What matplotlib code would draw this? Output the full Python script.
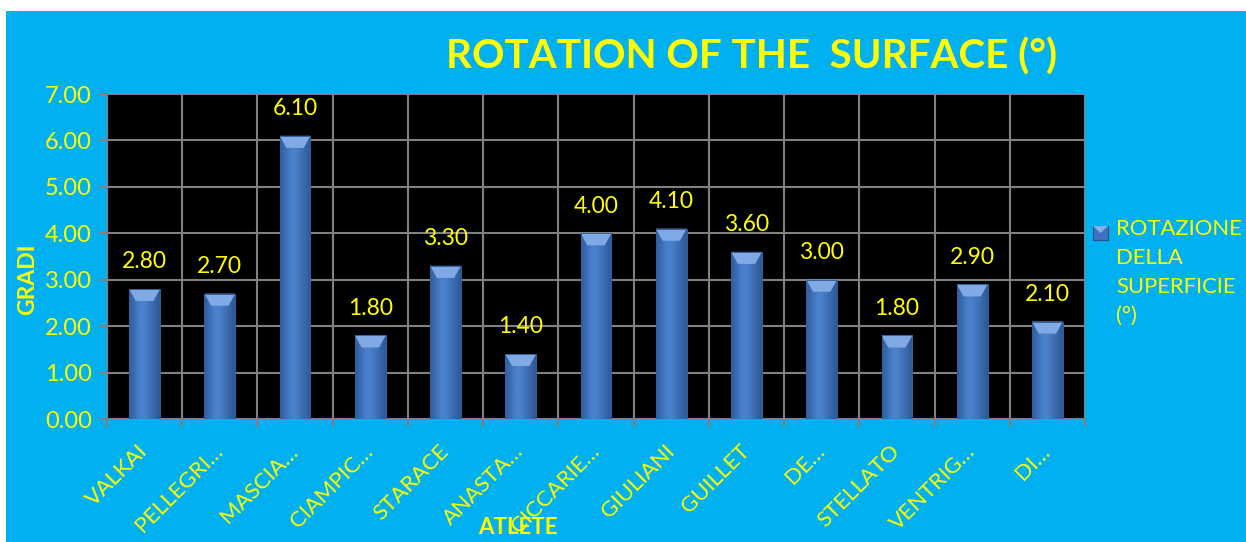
import matplotlib
matplotlib.use("Agg")
import matplotlib.pyplot as plt
import numpy as np
from matplotlib.patches import Rectangle, Polygon
from matplotlib.colors import LinearSegmentedColormap

categories = ["VALKAI", "PELLEGRI…", "MASCIA…", "CIAMPIC…", "STARACE", "ANASTA…",
              "CICCARIE…", "GIULIANI", "GUILLET", "DE…", "STELLATO", "VENTRIG…", "DI…"]
values = [2.80, 2.70, 6.10, 1.80, 3.30, 1.40, 4.00, 4.10, 3.60, 3.00, 1.80, 2.90, 2.10]
yticks = [0, 1, 2, 3, 4, 5, 6, 7]
title = "ROTATION OF THE  SURFACE (°)"
series_name = "ROTAZIONE\nDELLA\nSUPERFICIE\n(°)"
xlabel = "ATLETE"
ylabel = "GRADI"

BG = "#00B0F0"
YEL = "#FFFF00"
GRID = "#808080"
FONT = "Lato"

W, H = 1246, 542
fig = plt.figure(figsize=(W / 100, H / 100), dpi=100, facecolor="white")
# blue chart area (white margin at top/left)
fig.patches.append(Rectangle((6 / W, 0), 1, 1 - 11 / H, transform=fig.transFigure,
                             facecolor=BG, edgecolor="none", zorder=-10))

ax = fig.add_axes([107 / W, 1 - 419 / H, (1085 - 107) / W, (419 - 94) / H])
ax.set_zorder(1)
ax.set_facecolor("black")
n = len(categories)
x = np.arange(n)

# grid
for xb in np.arange(-0.5, n, 1.0):
    ax.axvline(xb, color=GRID, lw=1.5, zorder=1)
for yv in yticks:
    ax.axhline(yv, color=GRID, lw=1.5, zorder=1)

bars = ax.bar(x, values, width=0.41, color="#3F72BE", edgecolor="none", zorder=2)

cmap = LinearSegmentedColormap.from_list("bar", [(0, "#2F5C9C"), (0.35, "#4A80CC"),
                                                 (0.5, "#4A80CC"), (1, "#2E5896")])
grad = np.linspace(0, 1, 64).reshape(1, -1)
bevel_h = 0.26
for b in bars:
    x0, w, h = b.get_x(), b.get_width(), b.get_height()
    im = ax.imshow(grad, cmap=cmap, extent=[x0, x0 + w, 0, h], aspect="auto",
                   zorder=2.5, interpolation="bilinear")
    im.set_clip_path(b)
    poly = Polygon([(x0, h), (x0 + w, h), (x0 + w * 0.78, h - bevel_h), (x0 + w * 0.22, h - bevel_h)],
                   closed=True, facecolor="#7FAAE6", edgecolor="none", zorder=2.7)
    ax.add_patch(poly)
    ax.add_patch(Rectangle((x0, 0), w, h, facecolor="none", edgecolor="#34609E", lw=0.7, zorder=2.8))

ax.set_xlim(-0.5, n - 0.5)
ax.set_ylim(0, 7)

for xi, v in zip(x, values):
    ax.annotate(f"{v:.2f}", (xi, v), xytext=(0, 12), textcoords="offset points",
                ha="center", va="bottom", color=YEL, fontsize=16.5, family=FONT, zorder=4)

for s in ax.spines.values():
    s.set_visible(False)

ax.set_yticks(yticks)
ax.set_yticklabels([f"{v:.2f}" for v in yticks], color=YEL, fontsize=17, family=FONT)
ax.tick_params(axis="y", length=6, width=1.5, color=GRID, pad=5)
ax.set_xticks(np.arange(-0.5, n, 1.0), minor=True)
ax.set_xticks(x)
ax.set_xticklabels(categories, rotation=45, ha="right", va="center", rotation_mode="anchor",
                   color=YEL, fontsize=16, family=FONT)
ax.tick_params(axis="x", which="major", length=0, pad=21)
ax.tick_params(axis="x", which="minor", length=6, width=1.5, color=GRID)

ax.set_xlabel(xlabel, color=YEL, fontsize=16, fontweight="bold", family=FONT, va="center")
ax.xaxis.set_label_coords((518 - 107) / 978, -(527 - 419) / 325)
ax.set_ylabel(ylabel, color=YEL, fontsize=16.5, fontweight="bold", family=FONT, va="center")
ax.yaxis.set_label_coords((28 - 107) / 978, (419 - 279) / 325)

# title fitted to width
t = fig.text(752 / W, 1 - 57 / H, title, ha="center", va="center", color=YEL,
             fontsize=30, fontweight="bold", family=FONT)
fig.canvas.draw()
r = fig.canvas.get_renderer()
wpx = t.get_window_extent(r).width
t.set_fontsize(30 * 611 / wpx)

# legend (manual)
fig.patches.append(Rectangle((1093 / W, 1 - 240 / H), 15 / W, 14 / H, transform=fig.transFigure,
                             facecolor="#3F72BE", edgecolor="#2C5190", lw=0.8, zorder=3))
fig.patches.append(Polygon([(1093 / W, 1 - 226 / H), (1108 / W, 1 - 226 / H), (1100.5 / W, 1 - 233 / H)],
                           closed=True, transform=fig.transFigure, facecolor="#86B0EA",
                           edgecolor="none", zorder=4))
fig.text(1116 / W, 1 - 219 / H, series_name, ha="left", va="top", color=YEL,
         fontsize=15.8, family=FONT, linespacing=1.55)

fig.savefig("out.png", dpi=100, facecolor="white")
